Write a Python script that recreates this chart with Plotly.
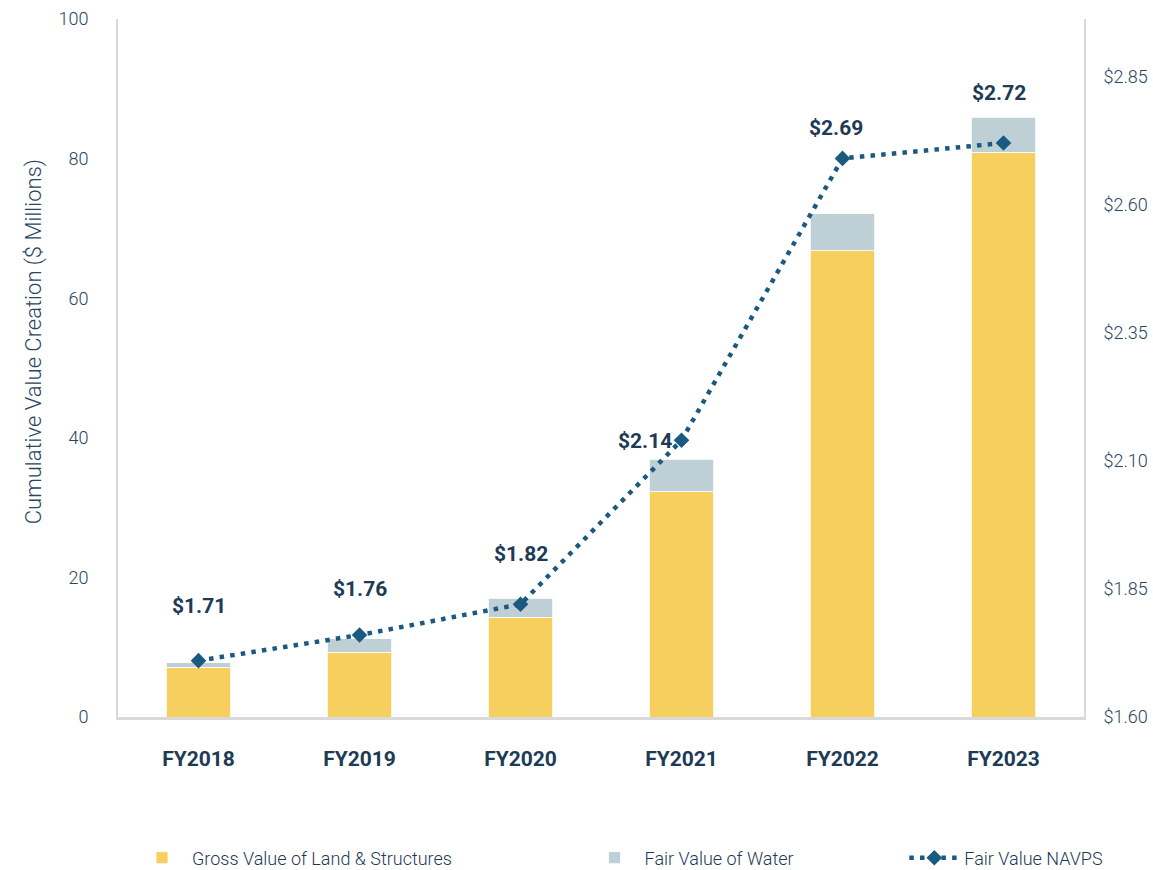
import plotly.graph_objects as go

# ---- data ----
categories = ["FY2018", "FY2019", "FY2020", "FY2021", "FY2022", "FY2023"]
gross_land = [7.1, 9.3, 14.3, 32.3, 66.8, 80.9]
fair_water = [0.7, 1.9, 2.7, 4.6, 5.3, 5.0]
navps = [1.71, 1.76, 1.82, 2.14, 2.69, 2.72]
left_ticks = [0, 20, 40, 60, 80, 100]
right_ticks = [1.60, 1.85, 2.10, 2.35, 2.60, 2.85]

# ---- styles ----
YELLOW = "#F7CF5F"
GRAY = "#BFCFD6"
NAVY = "#1B5A80"
TEXT = "#1D3A56"
AXIS_TXT = "#2A4560"
AXIS_LINE = "#D9D9D9"
FONT = "Roboto"
label_shift_x = [0, 0, 0, -37, -7, -5]
label_shift_y = [55, 46, 50, -1, 30, 50]

fig = go.Figure()
fig.add_trace(go.Bar(
    x=categories, y=gross_land, name="Gross Value of Land & Structures",
    marker=dict(color=YELLOW, line=dict(color="rgba(255,255,255,0.8)", width=1)),
    width=0.4, legend="legend", hoverinfo="skip"))
fig.add_trace(go.Bar(
    x=categories, y=fair_water, name="Fair Value of Water",
    marker=dict(color=GRAY, line=dict(color="rgba(255,255,255,0.8)", width=1)),
    width=0.4, legend="legend2", hoverinfo="skip"))
fig.add_trace(go.Scatter(
    x=categories, y=navps, name="Fair Value NAVPS", yaxis="y2",
    mode="lines+markers",
    line=dict(color=NAVY, width=4.5, dash="4.5px,6.2px"),
    marker=dict(symbol="diamond", size=12, color=NAVY),
    legend="legend3", hoverinfo="skip"))

for c, v, dx, dy in zip(categories, navps, label_shift_x, label_shift_y):
    fig.add_annotation(x=c, y=v, xref="x", yref="y2", text=f"${v:.2f}",
                       showarrow=False, xshift=dx, yshift=dy,
                       font=dict(family=FONT, size=21, color=TEXT, weight=700))

fig.add_annotation(text="Cumulative Value Creation ($ Millions)", xref="paper", yref="paper",
                   x=0, y=0.537, xshift=-99, textangle=-90, showarrow=False,
                   font=dict(family=FONT, size=22, color=AXIS_TXT, weight=300))

legend_common = dict(orientation="h", yanchor="middle", y=-0.202, xanchor="left",
                     bgcolor="rgba(0,0,0,0)", itemwidth=50,
                     font=dict(family=FONT, size=18, color=TEXT, weight=300))
fig.update_layout(
    width=1153, height=870,
    margin=dict(l=118, r=69, t=19, b=153, autoexpand=False),
    paper_bgcolor="white", plot_bgcolor="white",
    barmode="stack", bargap=0.6,
    showlegend=True,
    legend=dict(x=0.0145, **legend_common),
    legend2=dict(x=0.483, **legend_common),
    legend3=dict(x=0.814, **legend_common),
    xaxis=dict(showline=True, linecolor=AXIS_LINE, linewidth=3, ticks="",
               showgrid=False, ticklabelstandoff=21,
               tickfont=dict(family=FONT, size=21, color=TEXT, weight=700)),
    yaxis=dict(range=[0, 100], tickvals=left_ticks, showgrid=False, zeroline=False,
               showline=True, linecolor=AXIS_LINE, linewidth=2, ticks="",
               ticklabelstandoff=24,
               tickfont=dict(family=FONT, size=18, color=AXIS_TXT, weight=300)),
    yaxis2=dict(overlaying="y", side="right", range=[1.6, 2.962],
                tickvals=right_ticks, ticktext=[f"${t:.2f}" for t in right_ticks],
                showgrid=False, zeroline=False, showline=True, linecolor=AXIS_LINE,
                linewidth=2, ticks="", ticklabelstandoff=14,
                tickfont=dict(family=FONT, size=18, color=AXIS_TXT, weight=300)),
)

fig.write_html("out.html")
